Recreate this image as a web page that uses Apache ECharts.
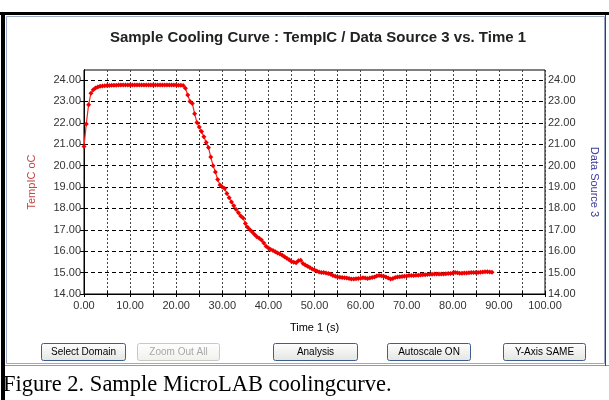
<!DOCTYPE html>
<html>
<head>
<meta charset="utf-8">
<script src="https://cdn.jsdelivr.net/npm/echarts@6/dist/echarts.min.js"></script>
<style>
html,body{margin:0;padding:0;background:#fff;}
#chart{width:609px;height:400px;}
</style>
</head>
<body>
<div id="chart"></div>
<script>
// ---- data ----
const titleText = 'Sample Cooling Curve : TempIC / Data Source 3 vs. Time 1';
const xName = 'Time 1 (s)';
const yLeftName = 'TempIC oC';
const yRightName = 'Data Source 3';
const caption = 'Figure 2. Sample MicroLAB coolingcurve.';
const buttons = ['Select Domain', 'Zoom Out All', 'Analysis', 'Autoscale ON', 'Y-Axis SAME'];
const xTickLabels = [0, 10, 20, 30, 40, 50, 60, 70, 80, 90, 100];
const yTickLabels = [14, 15, 16, 17, 18, 19, 20, 21, 22, 23, 24];
const times = [
 0,0.5,1,1.5,2,2.5,3,3.5,4,4.5,5,5.5,6,6.5,7,7.5,8,8.5,9,9.5,
 10,10.5,11,11.5,12,12.5,13,13.5,14,14.5,15,15.5,16,16.5,17,17.5,18,18.5,19,19.5,
 20,20.5,21,21.5,22,22.5,23,23.5,24,24.5,25,25.5,26,26.5,27,27.5,28,28.5,29,29.5,
 30,30.5,31,31.5,32,32.5,33,33.5,34,34.5,35,35.5,36,36.5,37,37.5,38,38.5,39,39.5,
 40,40.5,41,41.5,42,42.5,43,43.5,44,44.5,45,45.5,46,46.5,47,47.5,48,48.5,49,49.5,
 50,50.5,51,51.5,52,52.5,53,53.5,54,54.5,55,55.5,56,56.5,57,57.5,58,58.5,59,59.5,
 60,60.5,61,61.5,62,62.5,63,63.5,64,64.5,65,65.5,66,66.5,67,67.5,68,68.5,69,69.5,
 70,70.5,71,71.5,72,72.5,73,73.5,74,74.5,75,75.5,76,76.5,77,77.5,78,78.5,79,79.5,
 80,80.5,81,81.5,82,82.5,83,83.5,84,84.5,85,85.5,86,86.5,87,87.5,88,88.5
];
const temps = [
 20.90,21.95,22.85,23.38,23.55,23.63,23.68,23.71,23.72,23.73,23.74,23.75,23.76,23.76,23.76,23.77,23.77,23.77,23.77,23.77,
 23.77,23.77,23.77,23.77,23.77,23.77,23.77,23.77,23.77,23.77,23.77,23.77,23.77,23.77,23.77,23.77,23.77,23.77,23.77,23.77,
 23.77,23.76,23.76,23.74,23.62,23.30,23.00,22.90,22.42,22.02,21.80,21.60,21.35,21.08,20.85,20.40,20.00,19.70,19.35,19.10,
 19.00,18.93,18.70,18.50,18.30,18.12,17.95,17.80,17.65,17.55,17.30,17.12,17.00,16.90,16.78,16.68,16.60,16.52,16.38,16.23,
 16.15,16.08,16.03,15.97,15.92,15.87,15.81,15.74,15.67,15.60,15.52,15.48,15.46,15.55,15.58,15.42,15.35,15.30,15.24,15.17,
 15.12,15.07,15.03,15.01,15.00,14.98,14.96,14.92,14.87,14.83,14.80,14.78,14.77,14.76,14.75,14.72,14.70,14.70,14.71,14.73,
 14.74,14.76,14.75,14.73,14.75,14.77,14.80,14.84,14.86,14.85,14.83,14.80,14.75,14.70,14.72,14.77,14.80,14.81,14.82,14.83,
 14.84,14.86,14.86,14.87,14.88,14.88,14.89,14.90,14.90,14.91,14.92,14.92,14.93,14.93,14.93,14.94,14.94,14.95,14.96,14.96,
 14.98,15.00,14.99,14.97,14.97,14.98,14.98,14.99,15.00,15.00,15.00,15.01,15.02,15.03,15.04,15.04,15.03,15.02
];

// ---- chart ----
const chart = echarts.init(document.getElementById('chart'), null, {renderer: 'canvas'});
const FONT = 'Liberation Sans, Arial, sans-serif';
const fmt = v => Number(v).toFixed(2);

const yAxisCommon = {
  type: 'value', min: 14, max: 24.47, interval: 1,
  axisLine: {show: true, lineStyle: {color: '#000', width: 1}},
  axisTick: {show: true, length: 4, customValues: yTickLabels, lineStyle: {color: '#000'}},
  axisLabel: {customValues: yTickLabels, formatter: fmt, color: '#333', fontFamily: FONT, fontSize: 11, margin: 3},
  nameLocation: 'middle',
  nameTextStyle: {fontFamily: FONT, fontSize: 11}
};

function button(label, x, w, enabled) {
  return {
    type: 'group', left: x, top: 343,
    children: [
      {type: 'rect', shape: {x: 0, y: 0, width: w, height: 17, r: 2},
       style: {fill: {type: 'linear', x: 0, y: 0, x2: 0, y2: 1,
         colorStops: [{offset: 0, color: '#ffffff'}, {offset: 1, color: enabled ? '#e4e4e0' : '#f0f0ec'}]},
         stroke: enabled ? '#3d5f8f' : '#c8c8c4', lineWidth: 1}},
      {type: 'text', style: {text: label, x: w / 2, y: 9, align: 'center', verticalAlign: 'middle',
         font: '10px ' + FONT, fill: enabled ? '#000' : '#a8a8a8'}}
    ]
  };
}

const option = {
  backgroundColor: '#fff',
  animation: false,
  title: {
    text: titleText, left: 313, top: 25, textAlign: 'center',
    textStyle: {fontFamily: FONT, fontSize: 15, fontWeight: 'bold', color: '#222'}
  },
  grid: {left: 84, right: 64, top: 70, bottom: 106, show: true, borderColor: '#000', borderWidth: 1, backgroundColor: '#fff'},
  xAxis: [{
    type: 'value', min: 0, max: 100, interval: 5,
    name: xName, nameLocation: 'middle', nameGap: 28,
    nameTextStyle: {fontFamily: FONT, fontSize: 11, color: '#000'},
    axisLine: {show: true, lineStyle: {color: '#000'}},
    axisTick: {show: true, length: 3, lineStyle: {color: '#000'}},
    axisLabel: {customValues: xTickLabels, formatter: fmt, color: '#333', fontFamily: FONT, fontSize: 11, margin: 6},
    splitLine: {show: true, lineStyle: {color: '#444', type: [2, 2], width: 1}}
  }, {
    type: 'value', min: 0, max: 100, interval: 5, position: 'bottom',
    axisLine: {show: false}, axisLabel: {show: false}, splitLine: {show: false},
    axisTick: {show: true, inside: true, length: 3, lineStyle: {color: '#000'}}
  }],
  yAxis: [
    Object.assign({}, yAxisCommon, {
      position: 'left', name: yLeftName, nameGap: 47, nameRotate: 90,
      nameTextStyle: {fontFamily: FONT, fontSize: 11, color: '#c04848'},
      splitLine: {show: true, lineStyle: {color: '#000', type: [4, 3], width: 1}}
    }),
    Object.assign({}, yAxisCommon, {
      position: 'right', name: yRightName, nameGap: 44, nameRotate: -90,
      nameTextStyle: {fontFamily: FONT, fontSize: 11, color: '#3a3a9a'},
      splitLine: {show: false}
    })
  ],
  series: [{
    type: 'line', xAxisIndex: 0, yAxisIndex: 0,
    data: times.map((t, i) => [t, temps[i]]),
    symbol: 'diamond', symbolSize: 5, showSymbol: true,
    itemStyle: {color: '#ee0000'},
    lineStyle: {color: '#ff2020', width: 1.2},
    z: 5
  }],
  graphic: [
    {type: 'rect', shape: {x: 0, y: 12, width: 609, height: 3}, style: {fill: '#000'}, silent: true},
    {type: 'rect', shape: {x: 1, y: 12, width: 4, height: 388}, style: {fill: '#000'}, silent: true},
    {type: 'rect', shape: {x: 6.5, y: 16.5, width: 598, height: 347}, style: {fill: null, stroke: '#9aaac4', lineWidth: 1}, silent: true},
    {type: 'line', shape: {x1: 5, y1: 365.5, x2: 609, y2: 365.5}, style: {stroke: '#8a9cbc', lineWidth: 1}, silent: true},
    {type: 'line', shape: {x1: 605.5, y1: 15, x2: 605.5, y2: 366}, style: {stroke: '#404040', lineWidth: 1}, silent: true},
    button(buttons[0], 41, 84, true),
    button(buttons[1], 137, 82, false),
    button(buttons[2], 273, 84, true),
    button(buttons[3], 387, 83, true),
    button(buttons[4], 503, 82, true),
    {type: 'text', left: 3, top: 374, style: {text: caption, font: '22.5px "Liberation Serif", "Times New Roman", serif', fill: '#000'}}
  ]
};
chart.setOption(option);
</script>
</body>
</html>
